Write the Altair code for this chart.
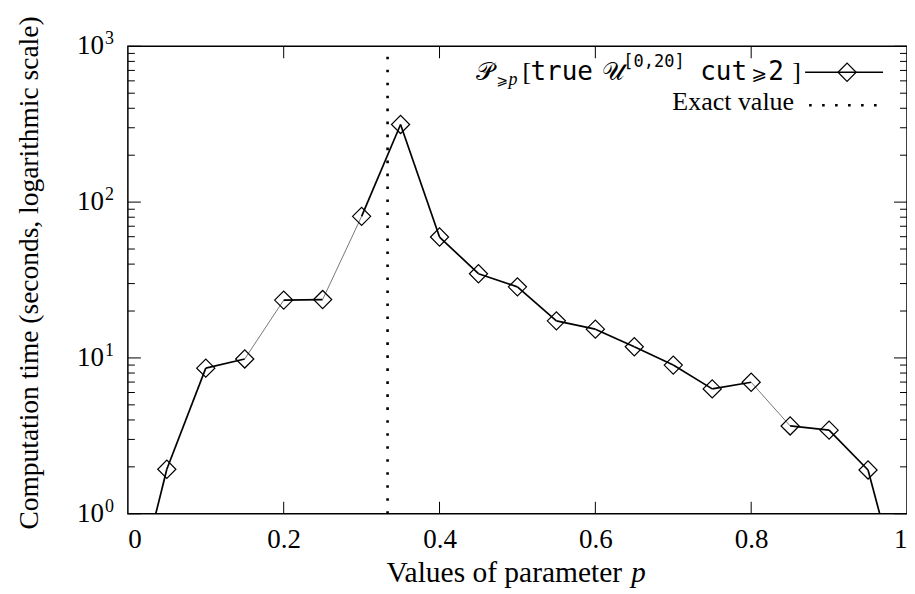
import altair as alt
import pandas as pd

# ---- data ----
p_values = [0.0, 0.05, 0.10, 0.15, 0.20, 0.25, 0.30, 0.35, 0.40, 0.45, 0.50,
            0.55, 0.60, 0.65, 0.70, 0.75, 0.80, 0.85, 0.90, 0.95, 1.0]
comp_time = [0.19, 1.93, 8.6, 9.85, 23.5, 23.7, 81.0, 315.0, 59.7, 34.7, 28.6,
             17.3, 15.3, 11.8, 9.0, 6.33, 6.98, 3.66, 3.44, 1.91, 0.22]
# segment rendering weight (1 = thick, 0 = thin) as seen in the picture
seg_thick = [1, 1, 1, 0, 1, 0, 1, 1, 1, 1, 1, 1, 1, 1, 1, 1, 0, 1, 1, 1]
exact_value = [1.0 / 3.0]
x_ticks = [0.2, 0.4, 0.6, 0.8]
x_labels = [0, 0.2, 0.4, 0.6, 0.8, 1.0]
y_major = [1, 10, 100, 1000]
y_minor = [m * 10 ** k for k in range(3) for m in range(2, 10)]
y_exponents = ["0", "1", "2", "3"]

W, H = 780, 468
SERIF = "Liberation Serif"
MONO = "DejaVu Sans Mono"

xs = alt.Scale(domain=[0, 1], nice=False, zero=False)
ys = alt.Scale(type="log", domain=[1, 1000], nice=False)
xaxis = alt.Axis(values=x_labels, format="~g", ticks=False,
                 domain=False, grid=False, title=None, labelPadding=13,
                 labelFont=SERIF, labelFontSize=27, labelColor="black")

# segments table
rows = []
for i in range(len(p_values) - 1):
    w = 1.7 if seg_thick[i] else 0.8
    c = "black" if seg_thick[i] else "#555555"
    for j in (i, i + 1):
        rows.append({"seg": i, "p": p_values[j], "t": comp_time[j], "w": w, "c": c})
seg_df = pd.DataFrame(rows)
pts_df = pd.DataFrame({"p": p_values, "t": comp_time})


def X(f):
    return alt.X(f, scale=xs, axis=xaxis)


def Y(f):
    return alt.Y(f, scale=ys, axis=None)


line = alt.Chart(seg_df).mark_line(clip=True).encode(
    x=X("p:Q"), y=Y("t:Q"), detail="seg:N",
    strokeWidth=alt.StrokeWidth("w:Q", scale=None),
    color=alt.Color("c:N", scale=None),
)
points = alt.Chart(pts_df).mark_point(
    shape="diamond", filled=False, size=330, stroke="black", strokeWidth=1.2,
    opacity=1, clip=True
).encode(x=X("p:Q"), y=Y("t:Q"))

exact = alt.Chart(pd.DataFrame({"p": exact_value})).mark_rule(
    color="black", strokeWidth=2.6, strokeDash=[2.6, 10.4]
).encode(x=X("p:Q"), y=alt.value(H), y2=alt.value(0))

xt = pd.DataFrame({"v": x_ticks})
xtick_b = alt.Chart(xt).mark_rule(color="black", strokeWidth=1).encode(
    x=X("v:Q"), y=alt.value(H), y2=alt.value(H - 12))
xtick_t = alt.Chart(xt).mark_rule(color="black", strokeWidth=1).encode(
    x=X("v:Q"), y=alt.value(0), y2=alt.value(12))

ymaj = pd.DataFrame({"v": y_major, "e": y_exponents})
ymin = pd.DataFrame({"v": y_minor})
ytick = []
for df, L in ((ymaj, 13), (ymin, 7)):
    ytick.append(alt.Chart(df).mark_rule(color="black", strokeWidth=1).encode(
        y=Y("v:Q"), x=alt.value(0), x2=alt.value(L)))
    ytick.append(alt.Chart(df).mark_rule(color="black", strokeWidth=1).encode(
        y=Y("v:Q"), x=alt.value(W), x2=alt.value(W - L)))

ylab_base = alt.Chart(ymaj).mark_text(
    font=SERIF, fontSize=27, align="right", baseline="middle", color="black"
).encode(y=Y("v:Q"), x=alt.value(-24), text=alt.value("10"))
ylab_exp = alt.Chart(ymaj).mark_text(
    font=SERIF, fontSize=18, align="left", baseline="middle", color="black", dy=-7
).encode(y=Y("v:Q"), x=alt.value(-23), text="e:N")

one = pd.DataFrame({"a": [0]})


def txt(s, x, y, font=SERIF, size=26, align="left", style="normal",
        baseline="alphabetic", angle=0):
    kw = dict(font=font, fontSize=size, align=align, baseline=baseline,
              color="black", fontStyle=style)
    if angle:
        kw["angle"] = angle
    return alt.Chart(one).mark_text(**kw).encode(
        x=alt.value(x), y=alt.value(y), text=alt.value(s))


# axis titles
xtitle = [txt("Values of parameter", 259, 536, size=29.5),
          txt("p", 504, 536, size=29, style="italic")]
ytitle = [txt("Computation time (seconds, logarithmic scale)", -98, 227,
              size=27.5, align="center", baseline="middle", angle=270)]

# legend
leg = [
    txt("\U0001D4AB", 349, 34, font="DejaVu Serif", size=25),
    txt("\u2A7E", 369, 39, font="DejaVu Sans", size=14),
    txt("p", 381, 39, size=18, style="italic"),
    txt("[", 395, 34, size=26),
    txt("true", 403, 34, font=MONO, size=26),
    txt("\U0001D4B0", 475, 34, font="DejaVu Serif", size=25),
    txt("[0,20]", 496, 21, font=MONO, size=17),
    txt("cut", 573, 34, font=MONO, size=26),
    txt("\u2A7E", 624, 34, font="DejaVu Sans", size=19),
    txt("2", 641, 34, font=MONO, size=26),
    txt("]", 665, 34, size=26),
    txt("Exact value", 667, 64, size=26, align="right"),
]
leg_line = alt.Chart(one).mark_rule(color="black", strokeWidth=1.3).encode(
    x=alt.value(678), x2=alt.value(756), y=alt.value(26))
leg_pt = alt.Chart(one).mark_point(shape="diamond", filled=False, size=330,
                                   stroke="black", strokeWidth=1.2, opacity=1).encode(
    x=alt.value(720), y=alt.value(26))
leg_dots = alt.Chart(one).mark_rule(color="black", strokeWidth=2.6,
                                    strokeDash=[2.6, 10.4]).encode(
    x=alt.value(682), x2=alt.value(758), y=alt.value(59))

chart = alt.layer(
    line, points, exact, xtick_b, xtick_t, *ytick, ylab_base, ylab_exp,
    *xtitle, *ytitle, *leg, leg_line, leg_pt, leg_dots
).properties(
    width=W, height=H, autosize="none",
    padding={"left": 120, "top": 38, "right": 0, "bottom": 80},
).configure(
    background="white",
    view=alt.ViewConfig(stroke="black", strokeWidth=1.5),
)

chart.save("out.html", embed_options={"renderer": "svg", "actions": False})
